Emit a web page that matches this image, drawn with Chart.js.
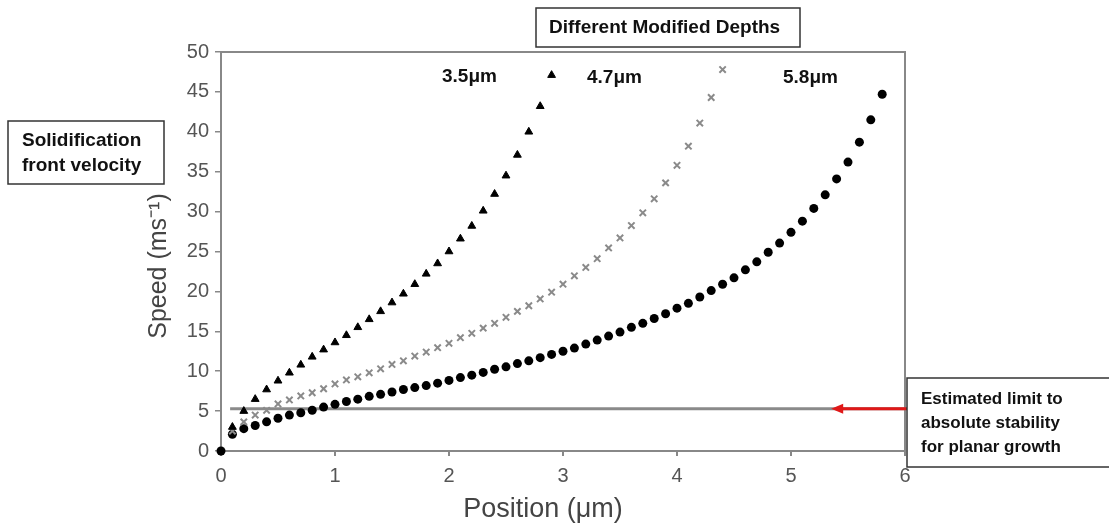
<!DOCTYPE html>
<html>
<head>
<meta charset="utf-8">
<title>Solidification front velocity</title>
<script src="https://cdn.jsdelivr.net/npm/chart.js@4/dist/chart.umd.min.js"></script>
<style>
	html, body { margin: 0; padding: 0; background: #fff; }
	#speedChart { display: block; }
</style>
</head>
<body>
<canvas id="speedChart" width="1109" height="528"></canvas>
<script>
// positions along the modified depth, in um
const positions = [0.1, 0.2, 0.3, 0.4, 0.5, 0.6, 0.7, 0.8, 0.9, 1.0,
	1.1, 1.2, 1.3, 1.4, 1.5, 1.6, 1.7, 1.8, 1.9, 2.0,
	2.1, 2.2, 2.3, 2.4, 2.5, 2.6, 2.7, 2.8, 2.9, 3.0,
	3.1, 3.2, 3.3, 3.4, 3.5, 3.6, 3.7, 3.8, 3.9, 4.0,
	4.1, 4.2, 4.3, 4.4, 4.5, 4.6, 4.7, 4.8, 4.9, 5.0,
	5.1, 5.2, 5.3, 5.4, 5.5, 5.6, 5.7, 5.8];

// front speed (m/s) for each modified depth
const speeds35 = [3.0, 5.0, 6.5, 7.7, 8.8, 9.8, 10.8, 11.8, 12.7, 13.6,
	14.5, 15.5, 16.5, 17.5, 18.6, 19.7, 20.9, 22.2, 23.5, 25.0,
	26.6, 28.2, 30.1, 32.2, 34.5, 37.1, 40.0, 43.2, 47.1];

const speeds47 = [2.5, 3.65, 4.5, 5.1, 5.9, 6.4, 6.9, 7.3, 7.8, 8.4,
	8.9, 9.3, 9.8, 10.3, 10.85, 11.3, 11.9, 12.4, 12.95, 13.5,
	14.2, 14.75, 15.4, 16.0, 16.75, 17.5, 18.2, 19.05, 19.9, 20.9,
	21.95, 23.0, 24.1, 25.45, 26.7, 28.25, 29.85, 31.6, 33.6, 35.8,
	38.2, 41.1, 44.3, 47.8];

const speeds58 = [2.1, 2.8, 3.2, 3.65, 4.1, 4.5, 4.8, 5.1, 5.5, 5.85,
	6.2, 6.5, 6.85, 7.1, 7.4, 7.7, 7.95, 8.2, 8.5, 8.85,
	9.2, 9.5, 9.85, 10.25, 10.55, 10.95, 11.3, 11.7, 12.1, 12.5,
	12.9, 13.4, 13.9, 14.4, 14.9, 15.5, 16.0, 16.6, 17.2, 17.9,
	18.5, 19.3, 20.1, 20.9, 21.7, 22.7, 23.7, 24.9, 26.05, 27.4,
	28.8, 30.4, 32.1, 34.1, 36.2, 38.7, 41.5, 44.7];

// estimated limit to absolute stability
const stabilityLimit = 5.3;
const stabilityFrom = 0.08;
const stabilityTo = 6;
const arrowHeadAt = 5.37;

const xTicks = [0, 1, 2, 3, 4, 5, 6];
const yTicks = [0, 5, 10, 15, 20, 25, 30, 35, 40, 45, 50];

const depthLabels = ['3.5\u03bcm', '4.7\u03bcm', '5.8\u03bcm'];

function toPoints(xs, ys) {
	return ys.map(function(y, i) { return { x: xs[i], y: y }; });
}

Chart.defaults.font.family = "'Liberation Sans', Arial, sans-serif";

const FONT = "'Liberation Sans', Arial, sans-serif";

function boxedText(ctx, lines, left, top, right, bottom, textX, lineYs, size) {
	ctx.save();
	ctx.fillStyle = '#fff';
	ctx.fillRect(left, top, right - left, bottom - top);
	ctx.strokeStyle = '#333';
	ctx.lineWidth = 1.5;
	ctx.strokeRect(left, top, right - left, bottom - top);
	ctx.fillStyle = '#111';
	ctx.font = 'bold ' + size + 'px ' + FONT;
	ctx.textAlign = 'left';
	ctx.textBaseline = 'middle';
	lines.forEach(function(line, i) { ctx.fillText(line, textX, lineYs[i]); });
	ctx.restore();
}

const annotations = {
	id: 'annotations',
	afterDraw: function(chart) {
		const ctx = chart.ctx;
		const area = chart.chartArea;
		const xs = chart.scales.x;
		const ys = chart.scales.y;

		// top and right edges of the frame
		ctx.save();
		ctx.strokeStyle = '#888';
		ctx.lineWidth = 2;
		ctx.beginPath();
		ctx.moveTo(area.left, area.top);
		ctx.lineTo(area.right, area.top);
		ctx.lineTo(area.right, area.bottom);
		ctx.stroke();

		// red arrow pointing at the stability limit line
		const ay = ys.getPixelForValue(stabilityLimit);
		const ax = xs.getPixelForValue(arrowHeadAt);
		ctx.strokeStyle = '#e01818';
		ctx.fillStyle = '#e01818';
		ctx.lineWidth = 3;
		ctx.beginPath();
		ctx.moveTo(ax + 6, ay);
		ctx.lineTo(area.right + 4, ay);
		ctx.stroke();
		ctx.beginPath();
		ctx.moveTo(ax - 2, ay);
		ctx.lineTo(ax + 10, ay - 5);
		ctx.lineTo(ax + 10, ay + 5);
		ctx.closePath();
		ctx.fill();

		// axis titles
		ctx.fillStyle = '#444';
		ctx.textAlign = 'center';
		ctx.textBaseline = 'middle';
		ctx.font = '27px ' + FONT;
		ctx.fillText('Position (\u03bcm)', 543, 510);
		ctx.font = '25px ' + FONT;
		ctx.translate(159, 266);
		ctx.rotate(-Math.PI / 2);
		ctx.fillText('Speed (ms\u207b\u00b9)', 0, 0);
		ctx.restore();

		// depth labels next to each curve
		ctx.save();
		ctx.fillStyle = '#111';
		ctx.font = 'bold 19px ' + FONT;
		ctx.textAlign = 'left';
		ctx.textBaseline = 'middle';
		ctx.fillText(depthLabels[0], 442, 77);
		ctx.fillText(depthLabels[1], 587, 78);
		ctx.fillText(depthLabels[2], 783, 78);
		ctx.restore();

		boxedText(ctx, ['Different Modified Depths'], 536, 8, 800, 47, 549, [28], 19);
		boxedText(ctx, ['Solidification', 'front velocity'], 8, 121, 164, 184, 22, [141, 166], 19);
		boxedText(ctx, ['Estimated limit to', 'absolute stability', 'for planar growth'],
			907, 378, 1112, 467, 921, [399, 423, 447], 17);
	}
};

const speedChart = new Chart(document.getElementById('speedChart').getContext('2d'), {
	type: 'scatter',
	data: {
		datasets: [{
			label: depthLabels[0],
			data: toPoints(positions, speeds35),
			pointStyle: 'triangle',
			pointRadius: 4.5,
			backgroundColor: '#000',
			borderColor: '#000',
			borderWidth: 1
		}, {
			label: depthLabels[1],
			data: toPoints(positions, speeds47),
			pointStyle: 'crossRot',
			pointRadius: 4.5,
			borderColor: '#8a8a8a',
			borderWidth: 2
		}, {
			label: depthLabels[2],
			data: [{ x: 0, y: 0 }].concat(toPoints(positions, speeds58)),
			pointStyle: 'circle',
			pointRadius: 4.5,
			backgroundColor: '#000',
			borderColor: '#000',
			borderWidth: 0,
			clip: false
		}, {
			label: 'limit',
			type: 'line',
			data: [{ x: stabilityFrom, y: stabilityLimit }, { x: stabilityTo, y: stabilityLimit }],
			borderColor: '#8a8a8a',
			borderWidth: 3,
			pointRadius: 0
		}]
	},
	options: {
		responsive: false,
		animation: false,
		layout: { padding: { left: 144, top: 52, right: 204, bottom: 0 } },
		plugins: {
			legend: { display: false },
			tooltip: { enabled: false }
		},
		scales: {
			x: {
				type: 'linear',
				min: xTicks[0],
				max: xTicks[xTicks.length - 1],
				afterBuildTicks: function(scale) { scale.ticks = xTicks.map(function(v) { return { value: v }; }); },
				afterFit: function(scale) { scale.height = 77; },
				ticks: { color: '#555', font: { size: 20 }, padding: 8 },
				grid: { drawOnChartArea: false, tickLength: 5, color: '#888', lineWidth: 2 },
				border: { color: '#888', width: 2 }
			},
			y: {
				min: yTicks[0],
				max: yTicks[yTicks.length - 1],
				afterBuildTicks: function(scale) { scale.ticks = yTicks.map(function(v) { return { value: v }; }); },
				afterFit: function(scale) { scale.width = 77; },
				ticks: { color: '#555', font: { size: 20 }, padding: 6 },
				grid: { drawOnChartArea: false, tickLength: 6, color: '#888', lineWidth: 1.5 },
				border: { color: '#888', width: 2 }
			}
		}
	},
	plugins: [annotations]
});
</script>
</body>
</html>
